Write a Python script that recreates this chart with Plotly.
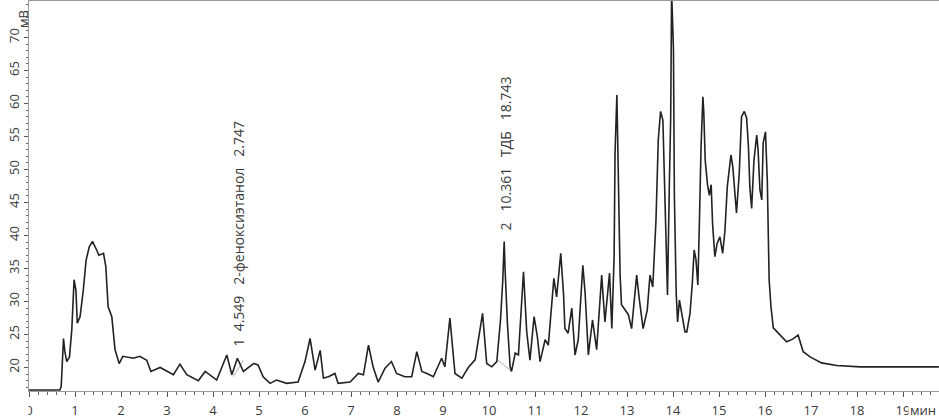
import plotly.graph_objects as go

# Chromatogram signal (time in minutes, signal in mV)
time_min = [0.00, 0.67, 0.70, 0.75, 0.78, 0.82, 0.88, 0.93, 0.98, 1.02, 1.05, 1.11, 1.18, 1.24, 1.31,
            1.38, 1.47, 1.52, 1.62, 1.67, 1.72, 1.80, 1.87, 1.96, 2.04, 2.16, 2.27, 2.41, 2.56, 2.65,
            2.85, 3.14, 3.28, 3.43, 3.68, 3.83, 4.08, 4.30, 4.41, 4.53, 4.66, 4.88, 4.98, 5.09, 5.24,
            5.38, 5.60, 5.85, 6.00, 6.11, 6.22, 6.33, 6.40, 6.51, 6.65, 6.72, 6.98, 7.16, 7.27, 7.38,
            7.48, 7.59, 7.74, 7.88, 7.99, 8.17, 8.32, 8.43, 8.54, 8.65, 8.79, 8.97, 9.04, 9.15, 9.26,
            9.41, 9.55, 9.70, 9.86, 9.95, 10.06, 10.17, 10.25, 10.30, 10.33, 10.35, 10.40, 10.46, 10.49,
            10.57, 10.64, 10.75, 10.82, 10.89, 10.98, 11.05, 11.11, 11.22, 11.29, 11.41, 11.47, 11.56,
            11.62, 11.65, 11.72, 11.80, 11.87, 11.94, 12.04, 12.09, 12.16, 12.25, 12.34, 12.45, 12.52,
            12.62, 12.67, 12.72, 12.74, 12.78, 12.81, 12.85, 12.88, 12.96, 13.03, 13.10, 13.21, 13.27,
            13.35, 13.44, 13.50, 13.56, 13.63, 13.68, 13.73, 13.78, 13.83, 13.86, 13.88, 13.92, 13.95,
            13.97, 14.01, 14.03, 14.07, 14.10, 14.14, 14.19, 14.26, 14.30, 14.37, 14.42, 14.46, 14.50,
            14.54, 14.57, 14.61, 14.65, 14.67, 14.70, 14.75, 14.79, 14.83, 14.86, 14.91, 14.96, 15.02,
            15.08, 15.13, 15.18, 15.22, 15.26, 15.30, 15.35, 15.38, 15.44, 15.49, 15.55, 15.60, 15.64,
            15.67, 15.71, 15.76, 15.82, 15.85, 15.89, 15.93, 15.96, 16.01, 16.05, 16.07, 16.09, 16.13,
            16.18, 16.33, 16.47, 16.60, 16.72, 16.83, 16.98, 17.23, 17.56, 18.07, 19.78]
signal_mv = [16.6, 16.6, 17.1, 24.4, 22.4, 20.9, 21.6, 25.7, 33.3, 31.7, 26.7, 27.7, 31.7, 36.2, 38.3,
             39.1, 37.8, 37.0, 37.3, 35.3, 29.2, 27.7, 22.7, 20.6, 21.7, 21.6, 21.4, 21.7, 21.1, 19.4,
             20.0, 18.9, 20.5, 18.9, 18.0, 19.4, 18.1, 21.9, 18.9, 21.4, 19.4, 20.6, 20.4, 18.6, 17.6,
             18.1, 17.6, 17.8, 20.9, 24.4, 19.6, 22.6, 18.4, 18.6, 19.1, 17.6, 17.8, 19.1, 18.9, 23.4,
             20.1, 17.8, 19.9, 20.9, 19.1, 18.6, 18.6, 22.4, 19.4, 19.1, 18.6, 21.4, 20.1, 27.5, 19.1,
             18.4, 20.0, 21.2, 28.2, 20.6, 20.1, 20.9, 27.2, 33.3, 39.1, 34.8, 26.7, 20.1, 19.4,
             22.2, 21.9, 34.5, 25.4, 21.1, 27.7, 24.7, 20.9, 24.2, 23.4, 33.5, 30.7, 37.3,
             31.2, 25.9, 25.2, 29.0, 21.9, 24.2, 35.5, 31.2, 21.9, 27.2, 22.7, 34.0, 26.9,
             34.3, 25.9, 36.8, 52.5, 61.3, 48.4, 34.0, 29.5, 28.7, 28.0, 25.9, 34.0, 30.2,
             25.9, 28.7, 34.0, 32.2, 42.3, 54.5, 58.8, 57.5, 45.4, 35.3, 31.0, 47.4, 58.0,
             77.0, 68.1, 45.9, 31.2, 26.9, 30.2, 28.2, 25.4, 25.4, 28.2, 32.8, 37.8, 36.3,
             32.5, 40.8, 53.5, 61.0, 58.5, 51.4, 47.7, 46.1, 47.7, 41.8, 36.8, 38.8, 39.8,
             37.3, 40.8, 47.4, 49.9, 52.2, 50.4, 46.4, 43.4, 49.4, 58.0, 58.8, 57.8, 53.5,
             47.4, 44.1, 51.4, 55.2, 52.9, 46.9, 45.4, 54.0, 55.7, 48.4, 40.3, 33.3, 29.2,
             26.0, 24.9, 23.9, 24.3, 24.9, 22.4, 21.6, 20.7, 20.3, 20.1, 20.1]

# Integration baselines (light grey)
base1_t = [4.44, 4.66]
base1_v = [18.6, 21.1]
base2_t = [10.20, 10.49]
base2_v = [21.1, 19.4]

# Peak labels
peak_times = [4.549, 10.361]
peak_label_base = [22.9, 40.4]
peak_texts = ["1\u00a0\u00a04.549\u00a0\u00a0\u00a02-феноксиэтанол\u00a0\u00a0\u00a02.747",
              "2\u00a0\u00a0\u00a010.361\u00a0\u00a0\u00a0ТДБ\u00a0\u00a0\u00a018.743"]

x_ticks = list(range(0, 20))
x_ticktext = [str(v) for v in x_ticks]
y_ticks = list(range(20, 75, 5))

FONT = "Open Sans"
TXT = "#3a3a3a"

fig = go.Figure()
fig.add_trace(go.Scatter(x=base1_t, y=base1_v, mode="lines",
                         line=dict(color="#b0b0b0", width=1), hoverinfo="skip"))
fig.add_trace(go.Scatter(x=base2_t, y=base2_v, mode="lines",
                         line=dict(color="#b0b0b0", width=1), hoverinfo="skip"))
fig.add_trace(go.Scatter(x=time_min, y=signal_mv, mode="lines",
                         line=dict(color="#222222", width=1.6)))

for t, yb, txt in zip(peak_times, peak_label_base, peak_texts):
    fig.add_annotation(x=t, y=yb, xref="x", yref="y", text=txt, textangle=-90,
                       showarrow=False, xanchor="center", yanchor="bottom",
                       font=dict(family=FONT, size=14, color=TXT))

# axis unit labels
fig.add_annotation(xref="paper", yref="paper", x=1.0, y=(391 - 410) / 390,
                   xanchor="right", yanchor="middle", xshift=-1,
                   text="мин", showarrow=False, bgcolor="white", borderpad=1,
                   font=dict(family=FONT, size=13, color=TXT))
fig.add_annotation(xref="paper", yref="paper", x=-17 / 910, y=(391 - 8) / 390,
                   text="мВ", textangle=-90, showarrow=False,
                   font=dict(family=FONT, size=13, color=TXT))

# clip left half of the "0" tick label like the reference
fig.add_shape(type="rect", xref="paper", yref="paper", layer="above",
              x0=-29 / 910, x1=-0.5 / 910, y0=-4 / 390, y1=-29 / 390,
              fillcolor="white", line=dict(width=0))

fig.update_layout(
    width=939, height=420,
    margin=dict(l=29, r=0, t=1, b=29),
    paper_bgcolor="white", plot_bgcolor="white",
    showlegend=False,
    font=dict(family=FONT, size=13, color=TXT),
    xaxis=dict(range=[0, 910 / 46], tickvals=x_ticks, ticktext=x_ticktext,
               automargin=False, ticklabelstandoff=2,
               showgrid=False, zeroline=False, showline=True, linecolor="#9a9a9a",
               linewidth=1, mirror=True, ticks="outside", ticklen=5, tickcolor="#555",
               tickfont=dict(family=FONT, size=13, color=TXT),
               minor=dict(dtick=0.2, ticks="outside", ticklen=3, tickcolor="#666")),
    yaxis=dict(range=[16.44, 75.53], tickvals=y_ticks, tickangle=-90,
               automargin=False,
               showgrid=False, zeroline=False, showline=True, linecolor="#9a9a9a",
               linewidth=1, ticks="outside", ticklen=4, tickcolor="#555",
               tickfont=dict(family=FONT, size=13, color=TXT),
               minor=dict(dtick=1, ticks="outside", ticklen=2, tickcolor="#666")),
)

fig.write_html("out.html", config={"displayModeBar": False},
               post_script="document.body.style.margin='0';document.body.style.overflow='hidden';")
